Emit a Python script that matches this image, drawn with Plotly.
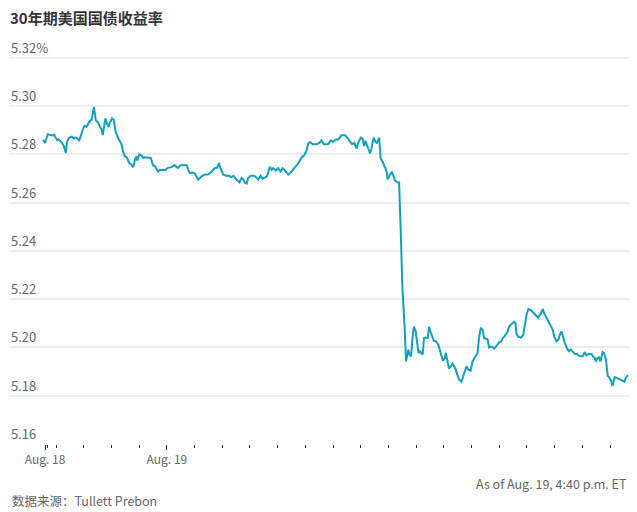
import plotly.graph_objects as go

# 30-year Treasury yield, intraday (ET)
times = [
    "2024-08-18 19:32", "2024-08-18 19:36", "2024-08-18 19:42", "2024-08-18 19:47", "2024-08-18 19:52",
    "2024-08-18 19:56", "2024-08-18 19:59", "2024-08-18 20:02", "2024-08-18 20:05", "2024-08-18 20:09",
    "2024-08-18 20:13", "2024-08-18 20:17", "2024-08-18 20:21", "2024-08-18 20:24", "2024-08-18 20:28",
    "2024-08-18 20:34", "2024-08-18 20:39", "2024-08-18 20:42", "2024-08-18 20:46", "2024-08-18 20:50",
    "2024-08-18 20:54", "2024-08-18 20:59", "2024-08-18 21:02", "2024-08-18 21:06", "2024-08-18 21:10",
    "2024-08-18 21:13", "2024-08-18 21:17", "2024-08-18 21:20", "2024-08-18 21:22", "2024-08-18 21:26",
    "2024-08-18 21:31", "2024-08-18 21:35", "2024-08-18 21:39", "2024-08-18 21:41", "2024-08-18 21:44",
    "2024-08-18 21:47", "2024-08-18 21:50", "2024-08-18 21:53", "2024-08-18 21:56", "2024-08-18 22:01",
    "2024-08-18 22:05", "2024-08-18 22:09", "2024-08-18 22:13", "2024-08-18 22:18", "2024-08-18 22:22",
    "2024-08-18 22:25", "2024-08-18 22:29", "2024-08-18 22:33", "2024-08-18 22:38", "2024-08-18 22:43",
    "2024-08-18 22:47", "2024-08-18 22:51", "2024-08-18 22:54", "2024-08-18 22:56", "2024-08-18 23:00",
    "2024-08-18 23:05", "2024-08-18 23:09", "2024-08-18 23:12", "2024-08-18 23:19", "2024-08-18 23:25",
    "2024-08-18 23:30", "2024-08-18 23:34", "2024-08-18 23:38", "2024-08-18 23:41", "2024-08-18 23:45",
    "2024-08-18 23:52", "2024-08-18 23:57", "2024-08-19 00:02", "2024-08-19 00:06", "2024-08-19 00:10",
    "2024-08-19 00:16", "2024-08-19 00:21", "2024-08-19 00:24", "2024-08-19 00:30", "2024-08-19 00:37",
    "2024-08-19 00:43", "2024-08-19 00:46", "2024-08-19 00:50", "2024-08-19 00:56", "2024-08-19 01:01",
    "2024-08-19 01:08", "2024-08-19 01:15", "2024-08-19 01:22", "2024-08-19 01:29", "2024-08-19 01:37",
    "2024-08-19 01:44", "2024-08-19 01:48", "2024-08-19 01:53", "2024-08-19 01:56", "2024-08-19 02:02",
    "2024-08-19 02:09", "2024-08-19 02:15", "2024-08-19 02:19", "2024-08-19 02:24", "2024-08-19 02:31",
    "2024-08-19 02:37", "2024-08-19 02:42", "2024-08-19 02:45", "2024-08-19 02:49", "2024-08-19 02:53",
    "2024-08-19 02:56", "2024-08-19 03:02", "2024-08-19 03:07", "2024-08-19 03:11", "2024-08-19 03:18",
    "2024-08-19 03:23", "2024-08-19 03:27", "2024-08-19 03:32", "2024-08-19 03:37", "2024-08-19 03:43",
    "2024-08-19 03:47", "2024-08-19 03:50", "2024-08-19 03:56", "2024-08-19 04:01", "2024-08-19 04:06",
    "2024-08-19 04:11", "2024-08-19 04:16", "2024-08-19 04:23", "2024-08-19 04:30", "2024-08-19 04:37",
    "2024-08-19 04:42", "2024-08-19 04:48", "2024-08-19 04:53", "2024-08-19 04:57", "2024-08-19 05:03",
    "2024-08-19 05:06", "2024-08-19 05:10", "2024-08-19 05:16", "2024-08-19 05:24", "2024-08-19 05:30",
    "2024-08-19 05:35", "2024-08-19 05:40", "2024-08-19 05:49", "2024-08-19 05:55", "2024-08-19 06:00",
    "2024-08-19 06:06", "2024-08-19 06:11", "2024-08-19 06:18", "2024-08-19 06:26", "2024-08-19 06:31",
    "2024-08-19 06:36", "2024-08-19 06:41", "2024-08-19 06:46", "2024-08-19 06:51", "2024-08-19 06:54",
    "2024-08-19 07:00", "2024-08-19 07:04", "2024-08-19 07:07", "2024-08-19 07:10", "2024-08-19 07:14",
    "2024-08-19 07:20", "2024-08-19 07:23", "2024-08-19 07:28", "2024-08-19 07:32", "2024-08-19 07:35",
    "2024-08-19 07:40", "2024-08-19 07:43", "2024-08-19 07:48", "2024-08-19 07:56", "2024-08-19 07:58",
    "2024-08-19 08:03", "2024-08-19 08:07", "2024-08-19 08:10", "2024-08-19 08:14", "2024-08-19 08:20",
    "2024-08-19 08:23", "2024-08-19 08:27", "2024-08-19 08:30", "2024-08-19 08:35", "2024-08-19 08:38",
    "2024-08-19 08:41", "2024-08-19 08:43", "2024-08-19 08:46", "2024-08-19 08:49", "2024-08-19 08:52",
    "2024-08-19 08:55", "2024-08-19 08:59", "2024-08-19 09:02", "2024-08-19 09:05", "2024-08-19 09:08",
    "2024-08-19 09:12", "2024-08-19 09:14", "2024-08-19 09:17", "2024-08-19 09:21", "2024-08-19 09:25",
    "2024-08-19 09:28", "2024-08-19 09:31", "2024-08-19 09:35", "2024-08-19 09:38", "2024-08-19 09:43",
    "2024-08-19 09:48", "2024-08-19 09:51", "2024-08-19 09:55", "2024-08-19 09:58", "2024-08-19 10:02",
    "2024-08-19 10:04", "2024-08-19 10:08", "2024-08-19 10:11", "2024-08-19 10:15", "2024-08-19 10:19",
    "2024-08-19 10:22", "2024-08-19 10:26", "2024-08-19 10:30", "2024-08-19 10:33", "2024-08-19 10:38",
    "2024-08-19 10:42", "2024-08-19 10:46", "2024-08-19 10:49", "2024-08-19 10:53", "2024-08-19 10:58",
    "2024-08-19 11:02", "2024-08-19 11:06", "2024-08-19 11:09", "2024-08-19 11:13", "2024-08-19 11:16",
    "2024-08-19 11:20", "2024-08-19 11:24", "2024-08-19 11:27", "2024-08-19 11:31", "2024-08-19 11:35",
    "2024-08-19 11:38", "2024-08-19 11:42", "2024-08-19 11:46", "2024-08-19 11:49", "2024-08-19 11:53",
    "2024-08-19 11:56", "2024-08-19 12:00", "2024-08-19 12:04", "2024-08-19 12:07", "2024-08-19 12:11",
    "2024-08-19 12:14", "2024-08-19 12:18", "2024-08-19 12:21", "2024-08-19 12:27", "2024-08-19 12:32",
    "2024-08-19 12:35", "2024-08-19 12:37", "2024-08-19 12:41", "2024-08-19 12:47", "2024-08-19 12:52",
    "2024-08-19 12:56", "2024-08-19 12:59", "2024-08-19 13:03", "2024-08-19 13:08", "2024-08-19 13:13",
    "2024-08-19 13:19", "2024-08-19 13:24", "2024-08-19 13:30", "2024-08-19 13:34", "2024-08-19 13:37",
    "2024-08-19 13:41", "2024-08-19 13:46", "2024-08-19 13:51", "2024-08-19 13:56", "2024-08-19 13:59",
    "2024-08-19 14:04", "2024-08-19 14:08", "2024-08-19 14:11", "2024-08-19 14:15", "2024-08-19 14:18",
    "2024-08-19 14:22", "2024-08-19 14:27", "2024-08-19 14:31", "2024-08-19 14:35", "2024-08-19 14:39",
    "2024-08-19 14:44", "2024-08-19 14:48", "2024-08-19 14:52", "2024-08-19 14:58", "2024-08-19 15:02",
    "2024-08-19 15:05", "2024-08-19 15:09", "2024-08-19 15:14", "2024-08-19 15:20", "2024-08-19 15:23",
    "2024-08-19 15:27", "2024-08-19 15:29", "2024-08-19 15:33", "2024-08-19 15:36", "2024-08-19 15:39",
    "2024-08-19 15:44", "2024-08-19 15:47", "2024-08-19 15:51", "2024-08-19 15:55", "2024-08-19 15:58",
    "2024-08-19 16:02", "2024-08-19 16:05", "2024-08-19 16:10", "2024-08-19 16:15", "2024-08-19 16:21",
    "2024-08-19 16:27", "2024-08-19 16:31", "2024-08-19 16:34", "2024-08-19 16:39",
]

yields = [
    5.2860, 5.2847, 5.2883, 5.2880, 5.2878, 5.2880, 5.2869, 5.2859, 5.2863, 5.2856,
    5.2847, 5.2833, 5.2806, 5.2853, 5.2869, 5.2873, 5.2866, 5.2870, 5.2866, 5.2856,
    5.2883, 5.2908, 5.2918, 5.2914, 5.2928, 5.2938, 5.2943, 5.2969, 5.2996, 5.2942,
    5.2932, 5.2914, 5.2901, 5.2880, 5.2921, 5.2949, 5.2928, 5.2914, 5.2928, 5.2949,
    5.2942, 5.2894, 5.2873, 5.2851, 5.2840, 5.2812, 5.2792, 5.2788, 5.2765, 5.2758,
    5.2747, 5.2779, 5.2792, 5.2774, 5.2799, 5.2796, 5.2785, 5.2788, 5.2785, 5.2785,
    5.2754, 5.2751, 5.2738, 5.2728, 5.2735, 5.2734, 5.2735, 5.2744, 5.2744, 5.2747,
    5.2755, 5.2749, 5.2744, 5.2755, 5.2755, 5.2755, 5.2738, 5.2722, 5.2725, 5.2720,
    5.2695, 5.2709, 5.2716, 5.2716, 5.2729, 5.2743, 5.2743, 5.2763, 5.2743, 5.2716,
    5.2711, 5.2711, 5.2706, 5.2711, 5.2695, 5.2684, 5.2702, 5.2698, 5.2682, 5.2679,
    5.2702, 5.2711, 5.2711, 5.2709, 5.2695, 5.2711, 5.2698, 5.2702, 5.2709, 5.2749,
    5.2736, 5.2743, 5.2733, 5.2743, 5.2729, 5.2743, 5.2733, 5.2716, 5.2729, 5.2743,
    5.2756, 5.2774, 5.2790, 5.2794, 5.2818, 5.2845, 5.2851, 5.2842, 5.2842, 5.2847,
    5.2858, 5.2842, 5.2842, 5.2858, 5.2851, 5.2861, 5.2861, 5.2879, 5.2879, 5.2869,
    5.2856, 5.2842, 5.2847, 5.2824, 5.2847, 5.2869, 5.2865, 5.2834, 5.2856, 5.2831,
    5.2804, 5.2824, 5.2869, 5.2851, 5.2847, 5.2869, 5.2784, 5.2766, 5.2729, 5.2697,
    5.2715, 5.2728, 5.2715, 5.2691, 5.2683, 5.2683, 5.2459, 5.2252, 5.2080, 5.1942,
    5.1970, 5.1991, 5.1970, 5.1963, 5.2039, 5.2086, 5.2066, 5.2025, 5.1977, 5.1984,
    5.1977, 5.1970, 5.2039, 5.2041, 5.2039, 5.2086, 5.2066, 5.2039, 5.2028, 5.2025,
    5.2011, 5.1991, 5.1963, 5.1945, 5.1956, 5.1977, 5.1942, 5.1912, 5.1922, 5.1932,
    5.1922, 5.1908, 5.1881, 5.1867, 5.1858, 5.1881, 5.1908, 5.1922, 5.1908, 5.1904,
    5.1942, 5.1956, 5.1963, 5.1977, 5.2039, 5.2082, 5.2073, 5.2039, 5.2036, 5.2032,
    5.2000, 5.2004, 5.2000, 5.1995, 5.2004, 5.2014, 5.2022, 5.2025, 5.2039, 5.2045,
    5.2055, 5.2066, 5.2086, 5.2100, 5.2107, 5.2100, 5.2059, 5.2045, 5.2041, 5.2052,
    5.2093, 5.2135, 5.2159, 5.2155, 5.2146, 5.2135, 5.2123, 5.2142, 5.2159, 5.2142,
    5.2128, 5.2114, 5.2096, 5.2073, 5.2045, 5.2025, 5.2032, 5.2052, 5.2066, 5.2045,
    5.2018, 5.1995, 5.1984, 5.1991, 5.1984, 5.1973, 5.1973, 5.1966, 5.1963, 5.1967,
    5.1981, 5.1967, 5.1973, 5.1973, 5.1963, 5.1956, 5.1942, 5.1956, 5.1959, 5.1942,
    5.1981, 5.1977, 5.1949, 5.1881, 5.1877, 5.1863, 5.1840, 5.1877, 5.1874, 5.1867,
    5.1863, 5.1858, 5.1874, 5.1885,
]

y_ticks = [5.16, 5.18, 5.20, 5.22, 5.24, 5.26, 5.28, 5.30, 5.32]
y_tick_text = ["5.16", "5.18", "5.20", "5.22", "5.24", "5.26", "5.28", "5.30", "5.32%"]
y_range = [5.16, 5.334]

date_ticks = ["2024-08-18 19:36", "2024-08-19 00:00"]
date_labels = ["Aug. 18", "Aug. 19"]

hour_ticks = [
    "2024-08-18 19:42", "2024-08-18 20:00", "2024-08-18 21:00", "2024-08-18 22:00", "2024-08-18 23:00",
    "2024-08-19 01:00", "2024-08-19 02:00", "2024-08-19 03:00", "2024-08-19 04:00", "2024-08-19 05:00",
    "2024-08-19 06:00", "2024-08-19 07:00", "2024-08-19 08:00", "2024-08-19 09:00", "2024-08-19 10:00",
    "2024-08-19 11:00", "2024-08-19 12:00", "2024-08-19 13:00", "2024-08-19 14:00", "2024-08-19 15:00",
    "2024-08-19 16:00",
]

x_range = ["2024-08-18 18:18", "2024-08-19 16:41"]

font_family = "Noto Sans CJK SC, Noto Sans, sans-serif"

# the page body adds an 8px margin, so the figure is 8px smaller each way
W, H = 629, 504
M_L, M_R, M_T, M_B = 1, 8, 16, 68
plot_h = H - M_T - M_B

fig = go.Figure()

fig.add_trace(go.Scatter(
    x=times,
    y=yields,
    mode="lines",
    line=dict(color="#12a0bd", width=2),
    showlegend=False,
    hoverinfo="skip",
))

# y labels sit just above their gridlines, flush left
label_notes = [
    dict(
        text=txt,
        x=0, xref="paper", xanchor="left",
        y=val, yref="y", yanchor="bottom",
        yshift=-1,
        showarrow=False,
        font=dict(family=font_family, size=13, color="#666666"),
    )
    for val, txt in zip(y_ticks, y_tick_text)
]

footer_notes = [
    dict(
        text="As of Aug. 19, 4:40 p.m. ET",
        x=1, xref="paper", xanchor="right",
        y=-39 / plot_h, yref="paper", yanchor="middle",
        showarrow=False,
        font=dict(family=font_family, size=12.5, color="#666666"),
    ),
    dict(
        text="数据来源：Tullett Prebon",
        x=1 / (W - M_L - M_R), xref="paper", xanchor="left",
        y=-56 / plot_h, yref="paper", yanchor="middle",
        showarrow=False,
        font=dict(family=font_family, size=12.5, color="#666666"),
    ),
]

fig.update_layout(
    width=W,
    height=H,
    margin=dict(l=M_L, r=M_R, t=M_T, b=M_B),
    plot_bgcolor="rgba(0,0,0,0)",
    paper_bgcolor="white",
    font=dict(family=font_family, size=13, color="#666666"),
    title=dict(
        text="<b>30年期美国国债收益率</b>",
        x=2 / W,
        xanchor="left",
        xref="container",
        y=1 - 11 / H,
        yanchor="middle",
        yref="container",
        font=dict(family=font_family, size=15, color="#333333"),
    ),
    xaxis=dict(
        type="date",
        range=x_range,
        showgrid=False,
        zeroline=False,
        showline=False,
        tickmode="array",
        tickvals=date_ticks,
        ticktext=date_labels,
        ticks="outside",
        ticklen=5,
        tickwidth=1,
        tickcolor="#333333",
        tickfont=dict(size=12, color="#666666"),
        minor=dict(
            tickmode="array",
            tickvals=hour_ticks,
            ticks="outside",
            ticklen=3,
            tickwidth=1,
            tickcolor="#333333",
            showgrid=False,
        ),
        fixedrange=True,
    ),
    yaxis=dict(
        range=y_range,
        tickmode="array",
        tickvals=y_ticks,
        showticklabels=False,
        showgrid=True,
        gridcolor="#ececec",
        gridwidth=1.5,
        zeroline=False,
        showline=False,
        ticks="",
        fixedrange=True,
    ),
    annotations=label_notes + footer_notes,
)

fig.write_html("out.html")
